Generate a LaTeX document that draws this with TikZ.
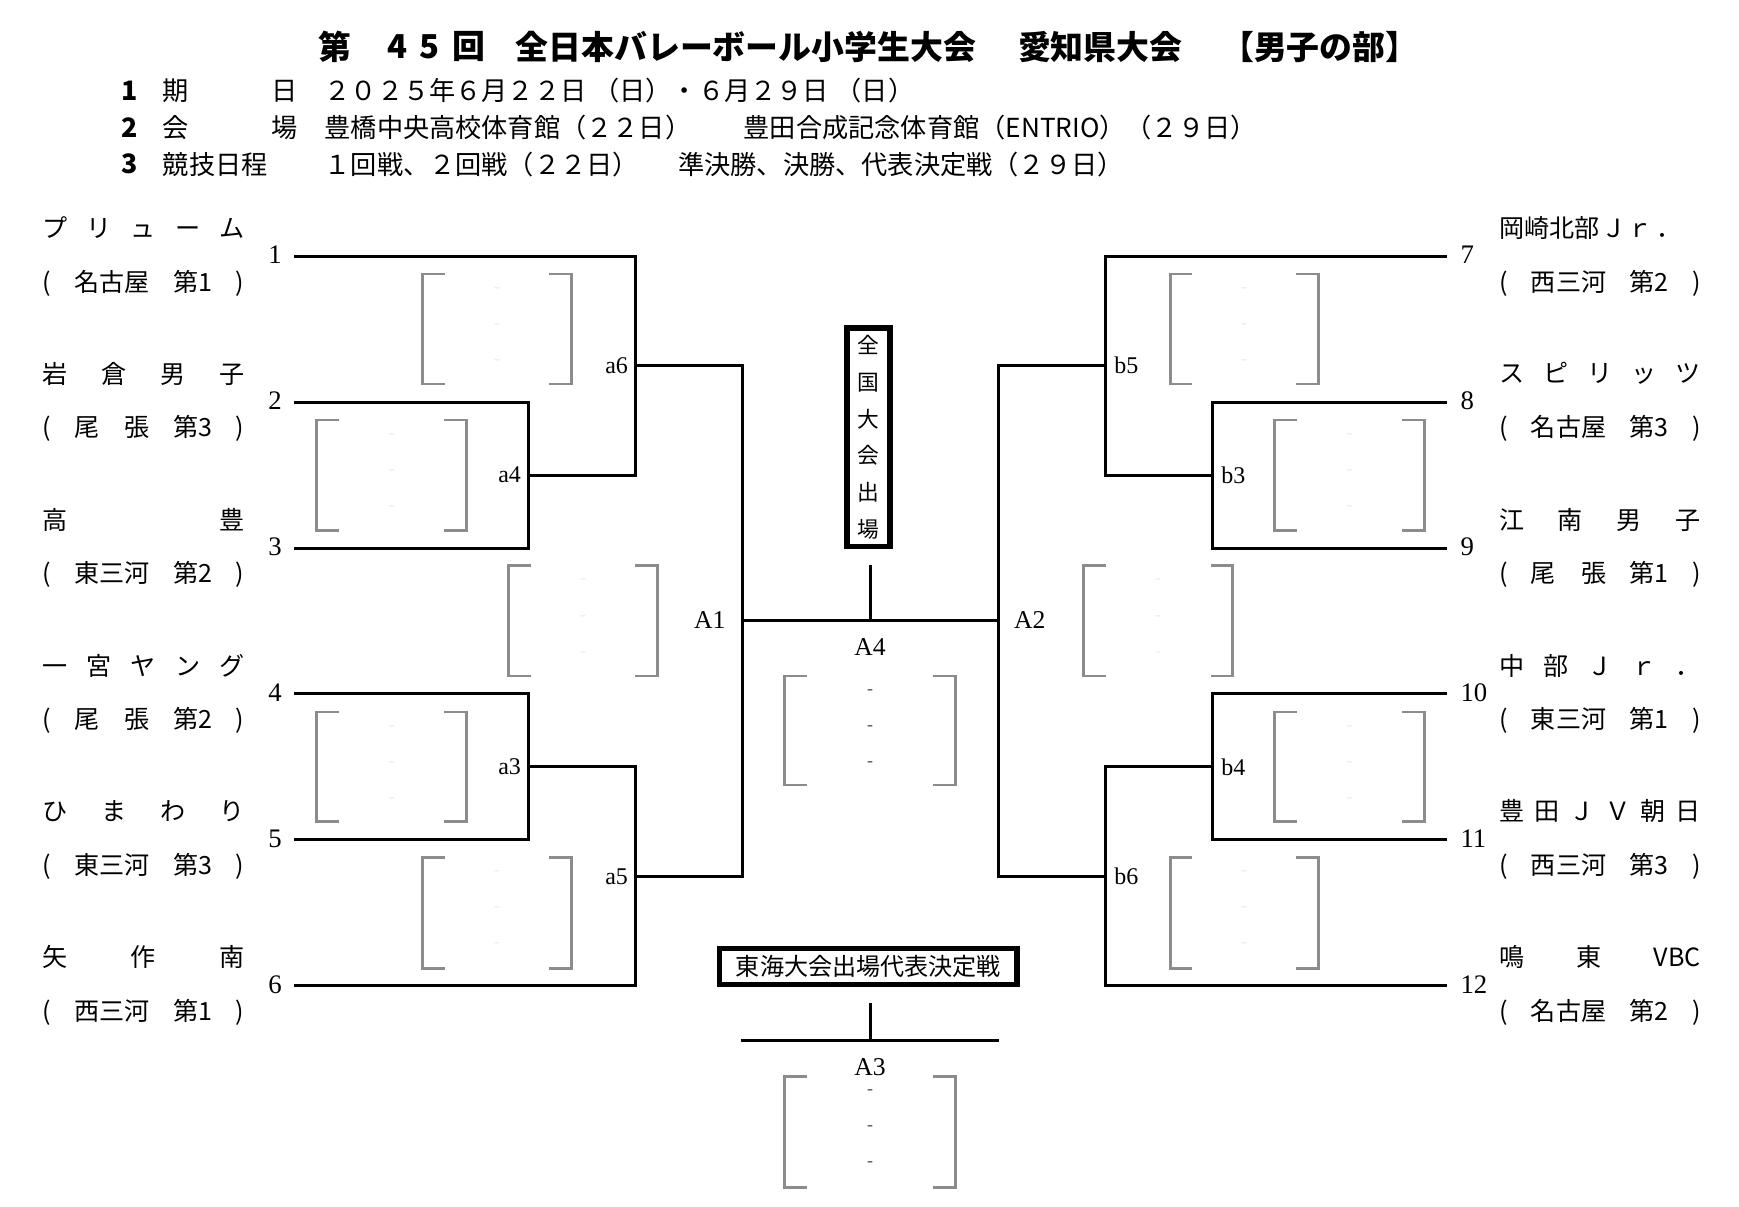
\documentclass[tikz,border=0pt]{standalone}
\usepackage{fontspec}
\setmainfont{Liberation Serif}
\newfontfamily\jp{Noto Sans CJK JP}
\definecolor{brkc}{gray}{0.55}
\definecolor{faintc}{gray}{0.92}
\tikzset{
 ln/.style={line width=2.7pt,black},
 brk/.style={line width=2.6pt,brkc},
 nm/.style={anchor=west,inner sep=0pt,font=\jp\fontsize{22.5}{27}\selectfont},
 num/.style={inner sep=0pt,font=\fontsize{24}{28}\selectfont},
 lbl/.style={inner sep=0pt,font=\fontsize{21.5}{25}\selectfont},
 blbl/.style={inner sep=0pt,font=\fontsize{23}{27}\selectfont},
 ttl/.style={inner sep=0pt,font=\jp\bfseries\fontsize{29.5}{34}\selectfont},
 info/.style={anchor=west,inner sep=0pt,font=\jp\fontsize{23.5}{28}\selectfont},
 infonum/.style={inner sep=0pt,font=\jp\bfseries\fontsize{24}{28}\selectfont},
 dsh/.style={inner sep=0pt,font=\fontsize{16}{18}\selectfont,text=black!70},
 fdsh/.style={inner sep=0pt,font=\fontsize{16}{18}\selectfont,text=faintc},
 boxlbl/.style={draw,line width=5pt,inner sep=0pt,font=\jp\fontsize{21.6}{26}\selectfont},
}
\newcommand\sprd[1]{\makebox[181pt][s]{#1}}
% gray score bracket: #1 name, #2 xl, #3 xr, #4 yt, #5 yb, #6 dash style
\newcommand\gbk[6]{%
 \draw[brk] (#2+20,#4) -- (#2,#4) -- (#2,#5) -- (#2+20,#5);
 \draw[brk] (#3-20,#4) -- (#3,#4) -- (#3,#5) -- (#3-20,#5);
 \node[#6] (#1d1) at (#2/2+#3/2,#4+14) {-};
 \node[#6] (#1d2) at (#2/2+#3/2,#4+46.5) {-};
 \node[#6] (#1d3) at (#2/2+#3/2,#4+79) {-};
}
\begin{document}
\begin{tikzpicture}[x=1pt,y=-1pt]
\useasboundingbox (0,0) rectangle (1560,1082);

% ---------- title ----------
\node[ttl] (ti1) at (300.5,42) {第};
\node[ttl] (ti2) at (357,42) {4};
\node[ttl] (ti3) at (385,42) {5};
\node[ttl] (ti4) at (421,42) {回};
\node[ttl] (ti5) at (669,42) {全日本バレーボール小学生大会};
\node[ttl] (ti6) at (987,42) {愛知県大会};
\node[ttl] (ti7) at (1184,42) {【男子の部】};

% ---------- info ----------
\node[infonum] (in1) at (116,81.5) {1};
\node[infonum] (in2) at (116,114.4) {2};
\node[infonum] (in3) at (116,147.3) {3};
\node[info] (ih1) at (146,81.5) {\makebox[121pt][s]{期\hfill 日}};
\node[info] (ih2) at (146,114.4) {\makebox[121pt][s]{会\hfill 場}};
\node[info] (ih3) at (146,147.3) {競技日程};
\node[info] (ic1) at (291,81.5) {２０２５年６月２２日\hspace{6pt}（日）・６月２９日\hspace{6pt}（日）};
\node[info] (ic2) at (291,114.4) {豊橋中央高校体育館（２２日）　　豊田合成記念体育館（ENTRIO）（２９日）};
\node[info] (ic3) at (291,147.3) {１回戦、２回戦（２２日）\hspace{0.5em}　準決勝、決勝、代表決定戦（２９日）};

% ---------- coordinates ----------
\coordinate (t1) at (264,229.8);
\coordinate (t2) at (264,360.7);
\coordinate (t3) at (264,491.6);
\coordinate (t4) at (264,622.5);
\coordinate (t5) at (264,753.4);
\coordinate (t6) at (264,884.3);
\coordinate (t7) at (1298,229.8);
\coordinate (t8) at (1298,360.7);
\coordinate (t9) at (1298,491.6);
\coordinate (t10) at (1298,622.5);
\coordinate (t11) at (1298,753.4);
\coordinate (t12) at (1298,884.3);
\coordinate (a4) at (474.5,426.15);
\coordinate (a6) at (570.5,328);
\coordinate (a3) at (474.5,687.95);
\coordinate (a5) at (570.5,786.1);
\coordinate (A1) at (666.5,557.05);
\coordinate (b3) at (1087.5,426.15);
\coordinate (b5) at (991.5,328);
\coordinate (b4) at (1087.5,687.95);
\coordinate (b6) at (991.5,786.1);
\coordinate (A2) at (895.5,557.05);
\coordinate (A4) at (780.5,557.05);

% ---------- bracket lines ----------
\draw[ln] (t2) -| (a4) |- (t3);
\draw[ln] (t1) -| (a6) |- (a4);
\draw[ln] (t4) -| (a3) |- (t5);
\draw[ln] (a3) -| (a5) |- (t6);
\draw[ln] (a6) -| (A1) |- (a5);
\draw[ln] (t8) -| (b3) |- (t9);
\draw[ln] (t7) -| (b5) |- (b3);
\draw[ln] (t10) -| (b4) |- (t11);
\draw[ln] (b4) -| (b6) |- (t12);
\draw[ln] (b5) -| (A2) |- (b6);
\draw[ln] (A1) -- (A2);

% ---------- match labels ----------
\node[lbl,anchor=east] (la4) at (467.5,426.15) {a4};
\node[lbl,anchor=east] (la6) at (563.5,328) {a6};
\node[lbl,anchor=east] (la3) at (467.5,687.95) {a3};
\node[lbl,anchor=east] (la5) at (563.5,786.1) {a5};
\node[lbl,anchor=west] (lb3) at (1095.5,426.15) {b3};
\node[lbl,anchor=west] (lb5) at (999.5,328) {b5};
\node[lbl,anchor=west] (lb4) at (1095.5,687.95) {b4};
\node[lbl,anchor=west] (lb6) at (999.5,786.1) {b6};
\node[blbl,anchor=east] (lA1) at (651,556) {A1};
\node[blbl,anchor=west] (lA2) at (909.5,556) {A2};
\node[blbl] (lA4) at (780.5,580) {A4};

% ---------- numbers ----------
\node[num,anchor=east] (n1) at (253,228.8) {1};
\node[num,anchor=east] (n2) at (253,359.7) {2};
\node[num,anchor=east] (n3) at (253,490.6) {3};
\node[num,anchor=east] (n4) at (253,621.5) {4};
\node[num,anchor=east] (n5) at (253,752.4) {5};
\node[num,anchor=east] (n6) at (253,883.3) {6};
\node[num,anchor=west] (n7) at (1310,228.8) {7};
\node[num,anchor=west] (n8) at (1310,359.7) {8};
\node[num,anchor=west] (n9) at (1310,490.6) {9};
\node[num,anchor=west] (n10) at (1310,621.5) {10};
\node[num,anchor=west] (n11) at (1310,752.4) {11};
\node[num,anchor=west] (n12) at (1310,883.3) {12};

% ---------- team names (left) ----------
\node[nm] (p1) at (38,204.3) {\sprd{プ\hfill リ\hfill ュ\hfill ー\hfill ム}};
\node[nm] (q1) at (38,253.8) {\sprd{(\hfill 名古屋\hfill 第1\hfill )}};
\node[nm] (p2) at (38,335.2) {\sprd{岩\hfill 倉\hfill 男\hfill 子}};
\node[nm] (q2) at (38,384.7) {\sprd{(\hfill 尾　張\hfill 第3\hfill )}};
\node[nm] (p3) at (38,466.1) {\sprd{高\hfill 豊}};
\node[nm] (q3) at (38,515.6) {\sprd{(\hfill 東三河\hfill 第2\hfill )}};
\node[nm] (p4) at (38,597) {\sprd{一\hfill 宮\hfill ヤ\hfill ン\hfill グ}};
\node[nm] (q4) at (38,646.5) {\sprd{(\hfill 尾　張\hfill 第2\hfill )}};
\node[nm] (p5) at (38,727.9) {\sprd{ひ\hfill ま\hfill わ\hfill り}};
\node[nm] (q5) at (38,777.4) {\sprd{(\hfill 東三河\hfill 第3\hfill )}};
\node[nm] (p6) at (38,858.8) {\sprd{矢\hfill 作\hfill 南}};
\node[nm] (q6) at (38,908.3) {\sprd{(\hfill 西三河\hfill 第1\hfill )}};

% ---------- team names (right) ----------
\node[nm] (p7) at (1344.5,204.3) {\sprd{岡崎北部\hspace{2pt}Ｊ\hspace{1pt}ｒ\hspace{3pt}．\hfill}};
\node[nm] (q7) at (1344.5,253.8) {\sprd{(\hfill 西三河\hfill 第2\hfill )}};
\node[nm] (p8) at (1344.5,335.2) {\sprd{ス\hfill ピ\hfill リ\hfill ッ\hfill ツ}};
\node[nm] (q8) at (1344.5,384.7) {\sprd{(\hfill 名古屋\hfill 第3\hfill )}};
\node[nm] (p9) at (1344.5,466.1) {\sprd{江\hfill 南\hfill 男\hfill 子}};
\node[nm] (q9) at (1344.5,515.6) {\sprd{(\hfill 尾　張\hfill 第1\hfill )}};
\node[nm] (p10) at (1344.5,597) {\sprd{中\hfill 部\hfill Ｊ\hfill ｒ\hfill ．}};
\node[nm] (q10) at (1344.5,646.5) {\sprd{(\hfill 東三河\hfill 第1\hfill )}};
\node[nm] (p11) at (1344.5,727.9) {\sprd{豊\hfill 田\hfill Ｊ\hfill Ｖ\hfill 朝\hfill 日}};
\node[nm] (q11) at (1344.5,777.4) {\sprd{(\hfill 西三河\hfill 第3\hfill )}};
\node[nm] (p12) at (1344.5,858.8) {\sprd{鳴\hfill 東\hfill VBC}};
\node[nm] (q12) at (1344.5,908.3) {\sprd{(\hfill 名古屋\hfill 第2\hfill )}};

% ---------- score brackets ----------
\gbk{L1}{379.4}{512.4}{245.8}{344.5}{fdsh}
\gbk{L2}{284.3}{418.6}{376.8}{476}{fdsh}
\gbk{L3}{456}{590}{507.5}{606.4}{fdsh}
\gbk{L4}{284.3}{418.6}{638.7}{737.1}{fdsh}
\gbk{L5}{379.4}{512.4}{769}{868.7}{fdsh}
\gbk{R1}{1049.6}{1182.6}{245.8}{344.5}{fdsh}
\gbk{R2}{1143.4}{1277.7}{376.8}{476}{fdsh}
\gbk{R3}{972}{1106}{507.5}{606.4}{fdsh}
\gbk{R4}{1143.4}{1277.7}{638.7}{737.1}{fdsh}
\gbk{R5}{1049.6}{1182.6}{769}{868.7}{fdsh}
\gbk{C4}{704}{857}{606.4}{704.2}{dsh}
\gbk{C3}{704}{857}{965.3}{1065.2}{dsh}

% ---------- national box ----------
\node[boxlbl,minimum width=38.3pt,minimum height=196pt,align=center,
      font=\jp\fontsize{19.5}{32.9}\selectfont] (zk) at (779.2,392.2)
      {全\\国\\大\\会\\出\\場};
\coordinate (zkb) at (780.5,507);
\draw[ln] (zkb) -- (A4);

% ---------- Tokai box ----------
\node[boxlbl,minimum width=267pt,minimum height=32.3pt] (tk) at (779,867.1)
      {東海大会出場代表決定戦};
\coordinate (tkb) at (780.5,899.5);
\coordinate (A3) at (780.5,933);
\coordinate (A3l) at (664.5,933);
\coordinate (A3r) at (896.5,933);
\draw[ln] (A3l) -- (A3r);
\draw[ln] (tkb) -- (A3);
\node[blbl] (lA3) at (780.5,957) {A3};
\end{tikzpicture}
\end{document}
